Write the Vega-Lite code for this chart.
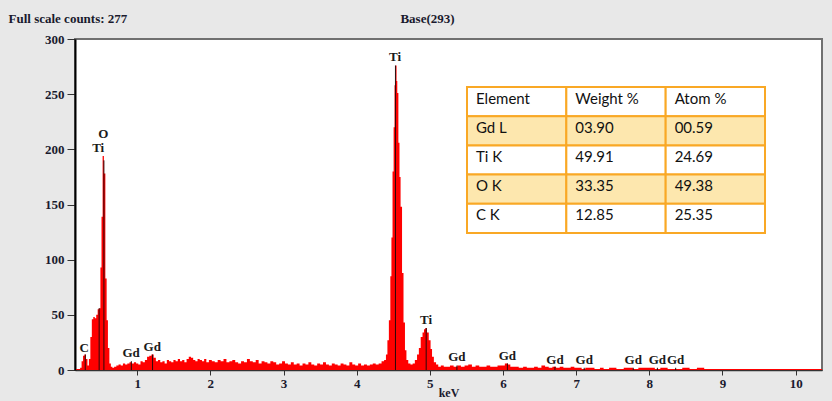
{
  "$schema": "https://vega.github.io/schema/vega-lite/v6.json",
  "autosize": {"type": "none"},
  "width": 747,
  "height": 331,
  "padding": {"left": 75, "top": 39, "right": 10, "bottom": 31},
  "background": "#e8e8e8",
  "config": {
    "view": {"fill": "#ffffff", "stroke": "#707070", "strokeWidth": 2},
    "axis": {"grid": false, "labelFont": "Liberation Serif", "labelFontWeight": "bold", "labelFontSize": 13, "labelColor": "#1a1a2e", "titleFont": "Liberation Serif", "titleFontWeight": "bold", "titleFontSize": 13, "titleColor": "#1a1a2e"}
  },
  "datasets": {
    "spectrum": [
      {"keV":0.15,"counts":0},{"keV":0.18,"counts":1},{"keV":0.21,"counts":1},{"keV":0.23,"counts":2},{"keV":0.25,"counts":8},{"keV":0.27,"counts":13},{"keV":0.29,"counts":14},{"keV":0.31,"counts":10},{"keV":0.33,"counts":4},{"keV":0.35,"counts":10},{"keV":0.37,"counts":30},{"keV":0.39,"counts":46},{"keV":0.41,"counts":48},{"keV":0.43,"counts":47},{"keV":0.45,"counts":50},{"keV":0.47,"counts":55},{"keV":0.49,"counts":56},{"keV":0.505,"counts":93},{"keV":0.52,"counts":139},{"keV":0.535,"counts":194},{"keV":0.555,"counts":178},{"keV":0.575,"counts":83},{"keV":0.59,"counts":45},{"keV":0.61,"counts":20},{"keV":0.63,"counts":6},{"keV":0.65,"counts":3},{"keV":0.67,"counts":2},{"keV":0.70,"counts":3},{"keV":0.73,"counts":4},{"keV":0.76,"counts":5},{"keV":0.79,"counts":4},{"keV":0.82,"counts":6},{"keV":0.85,"counts":5},{"keV":0.88,"counts":6},{"keV":0.91,"counts":7},{"keV":0.94,"counts":6},{"keV":0.97,"counts":7},{"keV":1.00,"counts":6},{"keV":1.03,"counts":5},{"keV":1.06,"counts":8},{"keV":1.09,"counts":7},{"keV":1.12,"counts":9},{"keV":1.15,"counts":12},{"keV":1.18,"counts":13},{"keV":1.21,"counts":14},{"keV":1.24,"counts":11},{"keV":1.27,"counts":8},{"keV":1.30,"counts":9},{"keV":1.33,"counts":7},{"keV":1.36,"counts":8},{"keV":1.39,"counts":6},{"keV":1.42,"counts":9},{"keV":1.45,"counts":8},{"keV":1.48,"counts":7},{"keV":1.51,"counts":9},{"keV":1.54,"counts":8},{"keV":1.57,"counts":10},{"keV":1.60,"counts":8},{"keV":1.63,"counts":9},{"keV":1.66,"counts":7},{"keV":1.69,"counts":10},{"keV":1.72,"counts":12},{"keV":1.75,"counts":11},{"keV":1.78,"counts":9},{"keV":1.81,"counts":8},{"keV":1.84,"counts":10},{"keV":1.87,"counts":9},{"keV":1.90,"counts":8},{"keV":1.93,"counts":10},{"keV":1.96,"counts":7},{"keV":2.00,"counts":9},{"keV":2.04,"counts":8},{"keV":2.08,"counts":7},{"keV":2.12,"counts":9},{"keV":2.16,"counts":8},{"keV":2.20,"counts":10},{"keV":2.24,"counts":7},{"keV":2.28,"counts":8},{"keV":2.32,"counts":9},{"keV":2.36,"counts":7},{"keV":2.40,"counts":6},{"keV":2.44,"counts":8},{"keV":2.48,"counts":7},{"keV":2.52,"counts":10},{"keV":2.56,"counts":8},{"keV":2.60,"counts":7},{"keV":2.64,"counts":9},{"keV":2.68,"counts":6},{"keV":2.72,"counts":8},{"keV":2.76,"counts":7},{"keV":2.80,"counts":6},{"keV":2.84,"counts":8},{"keV":2.88,"counts":7},{"keV":2.92,"counts":5},{"keV":2.96,"counts":6},{"keV":3.00,"counts":8},{"keV":3.04,"counts":6},{"keV":3.08,"counts":5},{"keV":3.12,"counts":7},{"keV":3.16,"counts":5},{"keV":3.20,"counts":6},{"keV":3.24,"counts":4},{"keV":3.28,"counts":6},{"keV":3.32,"counts":5},{"keV":3.36,"counts":7},{"keV":3.40,"counts":5},{"keV":3.44,"counts":4},{"keV":3.48,"counts":6},{"keV":3.52,"counts":5},{"keV":3.56,"counts":7},{"keV":3.60,"counts":5},{"keV":3.64,"counts":4},{"keV":3.68,"counts":6},{"keV":3.72,"counts":5},{"keV":3.76,"counts":4},{"keV":3.80,"counts":6},{"keV":3.84,"counts":5},{"keV":3.88,"counts":4},{"keV":3.92,"counts":7},{"keV":3.96,"counts":5},{"keV":4.00,"counts":4},{"keV":4.04,"counts":6},{"keV":4.08,"counts":4},{"keV":4.12,"counts":5},{"keV":4.16,"counts":4},{"keV":4.20,"counts":5},{"keV":4.24,"counts":6},{"keV":4.28,"counts":5},{"keV":4.32,"counts":6},{"keV":4.36,"counts":8},{"keV":4.39,"counts":9},{"keV":4.41,"counts":14},{"keV":4.43,"counts":27},{"keV":4.45,"counts":45},{"keV":4.47,"counts":85},{"keV":4.48,"counts":120},{"keV":4.50,"counts":180},{"keV":4.51,"counts":220},{"keV":4.525,"counts":258},{"keV":4.54,"counts":276},{"keV":4.55,"counts":262},{"keV":4.56,"counts":251},{"keV":4.58,"counts":206},{"keV":4.59,"counts":175},{"keV":4.61,"counts":148},{"keV":4.63,"counts":88},{"keV":4.65,"counts":43},{"keV":4.67,"counts":18},{"keV":4.69,"counts":9},{"keV":4.72,"counts":6},{"keV":4.75,"counts":5},{"keV":4.78,"counts":6},{"keV":4.81,"counts":9},{"keV":4.84,"counts":14},{"keV":4.86,"counts":20},{"keV":4.89,"counts":30},{"keV":4.91,"counts":34},{"keV":4.93,"counts":37},{"keV":4.95,"counts":38},{"keV":4.97,"counts":34},{"keV":5.00,"counts":27},{"keV":5.02,"counts":19},{"keV":5.04,"counts":12},{"keV":5.07,"counts":7},{"keV":5.10,"counts":5},{"keV":5.13,"counts":3},{"keV":5.17,"counts":4},{"keV":5.21,"counts":3},{"keV":5.25,"counts":3},{"keV":5.30,"counts":4},{"keV":5.35,"counts":3},{"keV":5.40,"counts":4},{"keV":5.45,"counts":3},{"keV":5.50,"counts":4},{"keV":5.55,"counts":5},{"keV":5.60,"counts":3},{"keV":5.65,"counts":4},{"keV":5.70,"counts":3},{"keV":5.75,"counts":3},{"keV":5.80,"counts":4},{"keV":5.85,"counts":3},{"keV":5.90,"counts":3},{"keV":5.95,"counts":4},{"keV":6.00,"counts":4},{"keV":6.05,"counts":6},{"keV":6.08,"counts":5},{"keV":6.12,"counts":3},{"keV":6.18,"counts":3},{"keV":6.25,"counts":2},{"keV":6.30,"counts":3},{"keV":6.35,"counts":2},{"keV":6.40,"counts":2},{"keV":6.45,"counts":3},{"keV":6.50,"counts":2},{"keV":6.55,"counts":4},{"keV":6.60,"counts":3},{"keV":6.65,"counts":2},{"keV":6.70,"counts":3},{"keV":6.75,"counts":2},{"keV":6.80,"counts":3},{"keV":6.85,"counts":2},{"keV":6.90,"counts":2},{"keV":6.95,"counts":3},{"keV":7.00,"counts":2},{"keV":7.05,"counts":2},{"keV":7.10,"counts":1},{"keV":7.15,"counts":2},{"keV":7.20,"counts":2},{"keV":7.30,"counts":1},{"keV":7.35,"counts":2},{"keV":7.40,"counts":1},{"keV":7.50,"counts":2},{"keV":7.60,"counts":1},{"keV":7.70,"counts":2},{"keV":7.75,"counts":2},{"keV":7.80,"counts":1},{"keV":7.90,"counts":2},{"keV":8.00,"counts":2},{"keV":8.05,"counts":2},{"keV":8.10,"counts":1},{"keV":8.20,"counts":2},{"keV":8.30,"counts":1},{"keV":8.40,"counts":1},{"keV":8.50,"counts":2},{"keV":8.60,"counts":1},{"keV":8.70,"counts":2},{"keV":8.80,"counts":1},{"keV":8.90,"counts":1},{"keV":9.00,"counts":1},{"keV":9.20,"counts":1},{"keV":9.40,"counts":1},{"keV":9.60,"counts":1},{"keV":9.80,"counts":1},{"keV":10.00,"counts":1},{"keV":10.20,"counts":1},{"keV":10.36,"counts":1}
    ],
    "markers": [
      {"element":"C","keV":0.29,"counts":14},
      {"element":"Ti","keV":0.48,"counts":56},
      {"element":"O","keV":0.545,"counts":190},
      {"element":"Gd","keV":0.92,"counts":8},
      {"element":"Gd","keV":1.21,"counts":14},
      {"element":"Ti","keV":4.53,"counts":276},
      {"element":"Ti","keV":4.95,"counts":38},
      {"element":"Gd","keV":5.37,"counts":4},
      {"element":"Gd","keV":6.06,"counts":6},
      {"element":"Gd","keV":6.71,"counts":3},
      {"element":"Gd","keV":7.11,"counts":2},
      {"element":"Gd","keV":7.78,"counts":2},
      {"element":"Gd","keV":8.11,"counts":2},
      {"element":"Gd","keV":8.36,"counts":2}
    ],
    "labels": [
      {"element":"C","keV":0.276,"counts":20},
      {"element":"O","keV":0.536,"counts":214},
      {"element":"Ti","keV":0.467,"counts":201},
      {"element":"Gd","keV":0.917,"counts":15},
      {"element":"Gd","keV":1.205,"counts":21},
      {"element":"Ti","keV":4.525,"counts":284},
      {"element":"Ti","keV":4.948,"counts":45},
      {"element":"Gd","keV":5.37,"counts":12},
      {"element":"Gd","keV":6.06,"counts":13},
      {"element":"Gd","keV":6.71,"counts":9},
      {"element":"Gd","keV":7.11,"counts":9},
      {"element":"Gd","keV":7.78,"counts":9},
      {"element":"Gd","keV":8.11,"counts":9},
      {"element":"Gd","keV":8.36,"counts":9}
    ],
    "table": [
      {"row":"head","col":"Element","text":"Element","band":"plain"},
      {"row":"head","col":"Weight %","text":"Weight %","band":"plain"},
      {"row":"head","col":"Atom %","text":"Atom %","band":"plain"},
      {"row":"Gd L","col":"Element","text":"Gd L","band":"shaded"},
      {"row":"Gd L","col":"Weight %","text":"03.90","band":"shaded"},
      {"row":"Gd L","col":"Atom %","text":"00.59","band":"shaded"},
      {"row":"Ti K","col":"Element","text":"Ti K","band":"plain"},
      {"row":"Ti K","col":"Weight %","text":"49.91","band":"plain"},
      {"row":"Ti K","col":"Atom %","text":"24.69","band":"plain"},
      {"row":"O K","col":"Element","text":"O K","band":"shaded"},
      {"row":"O K","col":"Weight %","text":"33.35","band":"shaded"},
      {"row":"O K","col":"Atom %","text":"49.38","band":"shaded"},
      {"row":"C K","col":"Element","text":"C K","band":"plain"},
      {"row":"C K","col":"Weight %","text":"12.85","band":"plain"},
      {"row":"C K","col":"Atom %","text":"25.35","band":"plain"}
    ]
  },
  "layer": [
    {
      "layer": [
        {
          "data": {"name": "spectrum"},
          "mark": {"type": "area", "interpolate": "step", "color": "#ff0000", "clip": true},
          "encoding": {
            "x": {"field": "keV", "type": "quantitative",
              "scale": {"domain": [0.15, 10.36], "nice": false, "zero": false},
              "axis": {"title": "keV", "values": [1,2,3,4,5,6,7,8,9,10], "format": "d", "domainColor": "#333333", "domainWidth": 1.5, "tickColor": "#333333", "tickSize": 5, "labelPadding": 2, "titlePadding": -3, "titleFontSize": 12, "titleBaseline": "top"}},
            "y": {"field": "counts", "type": "quantitative",
              "scale": {"domain": [0, 300], "nice": false},
              "axis": {"title": "Full scale counts: 277", "values": [0,50,100,150,200,250,300], "domainColor": "#000000", "domainWidth": 2, "tickColor": "#333333", "tickSize": 8, "labelPadding": 3, "titleAngle": 0, "titleAlign": "left", "titleBaseline": "alphabetic", "titleX": -67, "titleY": -17}}
          }
        },
        {
          "data": {"name": "markers"},
          "mark": {"type": "rule", "color": "#2a0a0a", "strokeWidth": 1},
          "encoding": {
            "x": {"field": "keV", "type": "quantitative"},
            "y": {"field": "counts", "type": "quantitative"},
            "y2": {"datum": 0}
          }
        },
        {
          "data": {"name": "labels"},
          "mark": {"type": "text", "font": "Liberation Serif", "fontWeight": "bold", "fontSize": 13, "color": "#1a1a1a", "baseline": "middle", "align": "center"},
          "encoding": {
            "x": {"field": "keV", "type": "quantitative"},
            "y": {"field": "counts", "type": "quantitative"},
            "text": {"field": "element"}
          }
        }
      ]
    },
    {
      "data": {"name": "table"},
      "layer": [
        {
          "mark": {"type": "rect", "stroke": "#f9a825", "strokeWidth": 2},
          "encoding": {
            "x": {"field": "col", "type": "nominal",
              "scale": {"domain": ["Element","Weight %","Atom %"], "range": [392, 690], "paddingInner": 0, "paddingOuter": 0},
              "axis": {"orient": "top", "title": "Base(293)", "labels": false, "ticks": false, "domain": false, "titleX": 352, "titleY": -17, "titleBaseline": "alphabetic", "titleAlign": "center"}},
            "y": {"field": "row", "type": "nominal",
              "scale": {"domain": ["head","Gd L","Ti K","O K","C K"], "range": [48, 194], "paddingInner": 0, "paddingOuter": 0},
              "axis": null},
            "color": {"field": "band", "type": "nominal", "scale": {"domain": ["shaded","plain"], "range": ["#fde7ae","#ffffff"]}, "legend": null}
          }
        },
        {
          "mark": {"type": "text", "font": "Lato", "fontSize": 15, "color": "#111111", "align": "left", "baseline": "middle", "dx": 9, "dy": -3},
          "encoding": {
            "x": {"field": "col", "type": "nominal", "bandPosition": 0},
            "y": {"field": "row", "type": "nominal"},
            "text": {"field": "text"}
          }
        }
      ]
    }
  ],
  "resolve": {"scale": {"x": "independent", "y": "independent", "color": "independent"}, "axis": {"x": "independent", "y": "independent"}}
}
